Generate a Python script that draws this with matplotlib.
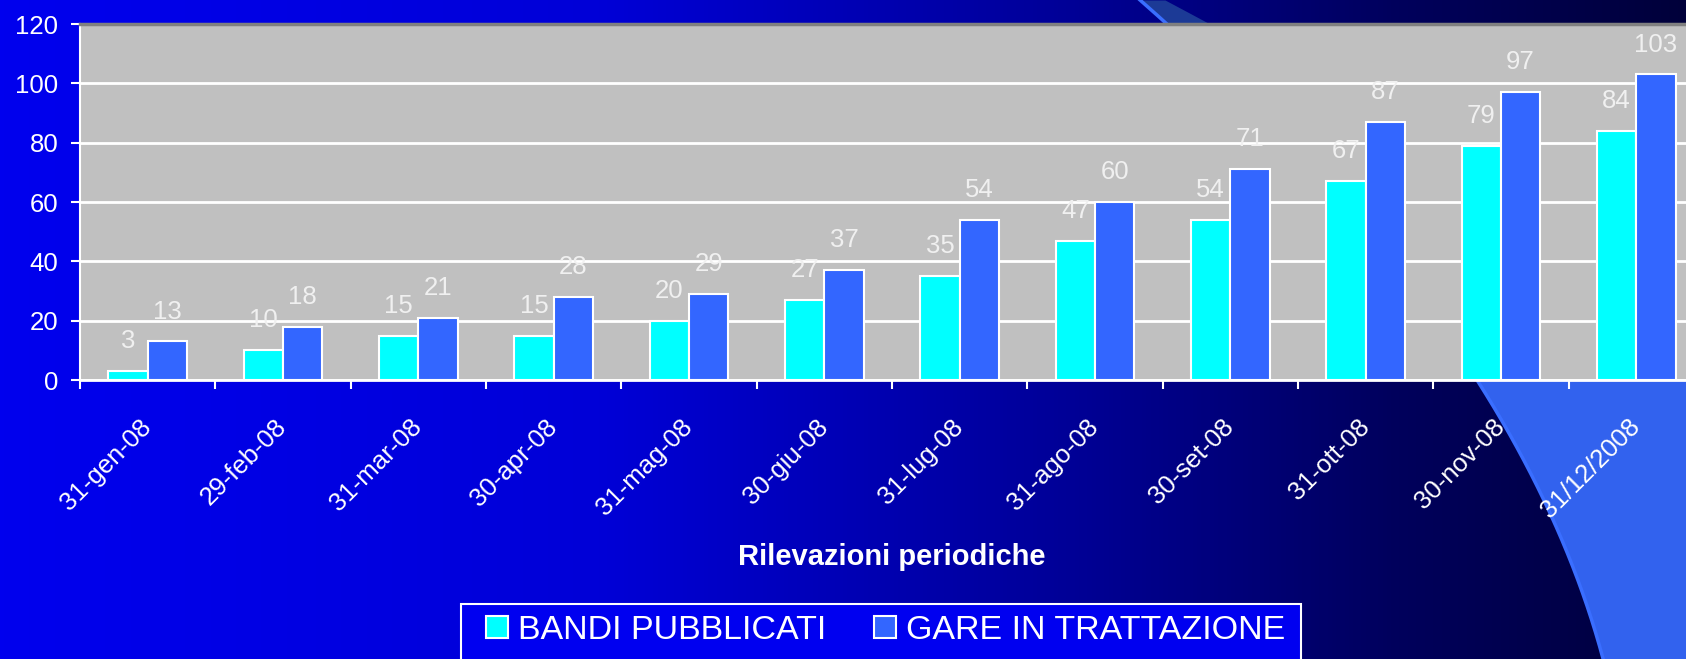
import matplotlib.pyplot as plt
import numpy as np
from matplotlib.patches import Patch, Rectangle

plt.rcParams['font.family'] = ['Liberation Sans', 'DejaVu Sans']

# Dati
date = ['31-gen-08', '29-feb-08', '31-mar-08', '30-apr-08', '31-mag-08', '30-giu-08',
        '31-lug-08', '31-ago-08', '30-set-08', '31-ott-08', '30-nov-08', '31/12/2008']
bandi = [3, 10, 15, 15, 20, 27, 35, 47, 54, 67, 79, 84]
gare = [13, 18, 21, 28, 29, 37, 54, 60, 71, 87, 97, 103]
yticks = [0, 20, 40, 60, 80, 100, 120]

W, H = 1686, 659
fig = plt.figure(figsize=(W / 100, H / 100), dpi=100)

# Sfondo: sfumatura blu + banda decorativa
bg = fig.add_axes([0, 0, 1, 1], zorder=-10)
xs = np.linspace(0, W, 400)
blu = np.interp(xs, [0, 600, 1075, 1400, 1686], [238, 215, 150, 92, 58]) / 255
grad = np.zeros((2, len(xs), 3))
grad[:, :, 2] = blu
bg.imshow(grad, extent=[0, W, H, 0], aspect='auto')

yy = np.linspace(0, H, 300)
bordo = 1140 + 1.1377 * yy - 0.00066 * yy ** 2
destra = bordo + 25 + 0.75 * yy
su = yy <= 200
giu = yy >= 200
bg.fill_betweenx(yy[su], bordo[su], destra[su], color='#1C3A96', lw=0)
bg.fill_betweenx(yy[giu], bordo[giu], destra[giu], color='#3262EE', lw=0)
bg.plot(bordo, yy, color='#3A6EFF', lw=2.5)
bg.set_xlim(0, W)
bg.set_ylim(H, 0)
bg.axis('off')

# Grafico
ax = fig.add_axes([80 / W, (H - 380) / H, 1624 / W, 356 / H])
ax.set_facecolor('#C0C0C0')
x = np.arange(len(date))
w = 0.29
b1 = ax.bar(x - w / 2, bandi, w, color='#00FFFF', edgecolor='white', lw=1.5, zorder=3)
b2 = ax.bar(x + w / 2, gare, w, color='#3366FF', edgecolor='white', lw=1.5, zorder=3)

for rects, vals in [(b1, bandi), (b2, gare)]:
    for r, v in zip(rects, vals):
        ax.annotate(str(v), (r.get_x() + r.get_width() / 2, v), xytext=(0, 16.5),
                    textcoords='offset points', ha='center', va='baseline',
                    fontsize=18.5, color='#F0F0F0', zorder=4)

ax.set_xlim(-0.5, len(date) - 0.5)
ax.set_ylim(0, 120)
ax.set_yticks(yticks)
ax.yaxis.grid(True, color='white', lw=2)
ax.set_axisbelow(True)

ax.set_xticks(x)
ax.set_xticklabels(date, rotation=45, ha='right', va='center', rotation_mode='anchor')
ax.set_xticks(np.arange(len(date) + 1) - 0.5, minor=True)
ax.tick_params(axis='x', which='major', length=0, pad=31, labelsize=18.5, labelcolor='white')
ax.tick_params(axis='x', which='minor', length=6.5, width=1.5, color='white')
ax.tick_params(axis='y', length=6.5, width=1.5, color='white', pad=9, labelsize=18.5,
               labelcolor='white')

ax.spines['left'].set_color('white')
ax.spines['left'].set_linewidth(1.5)
ax.spines['bottom'].set_color('white')
ax.spines['bottom'].set_linewidth(2)
ax.spines['top'].set_color('#808080')
ax.spines['top'].set_linewidth(2.5)
ax.spines['right'].set_visible(False)

fig.text(892 / W, 1 - 557 / H, 'Rilevazioni periodiche', ha='center', va='center',
         fontsize=21, fontweight='bold', color='white')

# Legenda
fig.patches.append(Rectangle((461 / W, -0.05), 840 / W, 0.05 + 1 - 604 / H,
                             transform=fig.transFigure, facecolor='#0000F0',
                             edgecolor='white', lw=1.5, zorder=1))
handles = [Patch(facecolor='#00FFFF', edgecolor='white', lw=1.5),
           Patch(facecolor='#3366FF', edgecolor='white', lw=1.5)]
fig.legend(handles, ['BANDI PUBBLICATI', 'GARE IN TRATTAZIONE'], loc='upper left',
           bbox_to_anchor=(486 / W, 1 - 615 / H), ncol=2, fontsize=24.5, frameon=False,
           borderpad=0, borderaxespad=0, handlelength=0.64, handleheight=0.6,
           handletextpad=0.3, columnspacing=1.4, labelcolor='white')

fig.savefig('out.png', dpi=100)
